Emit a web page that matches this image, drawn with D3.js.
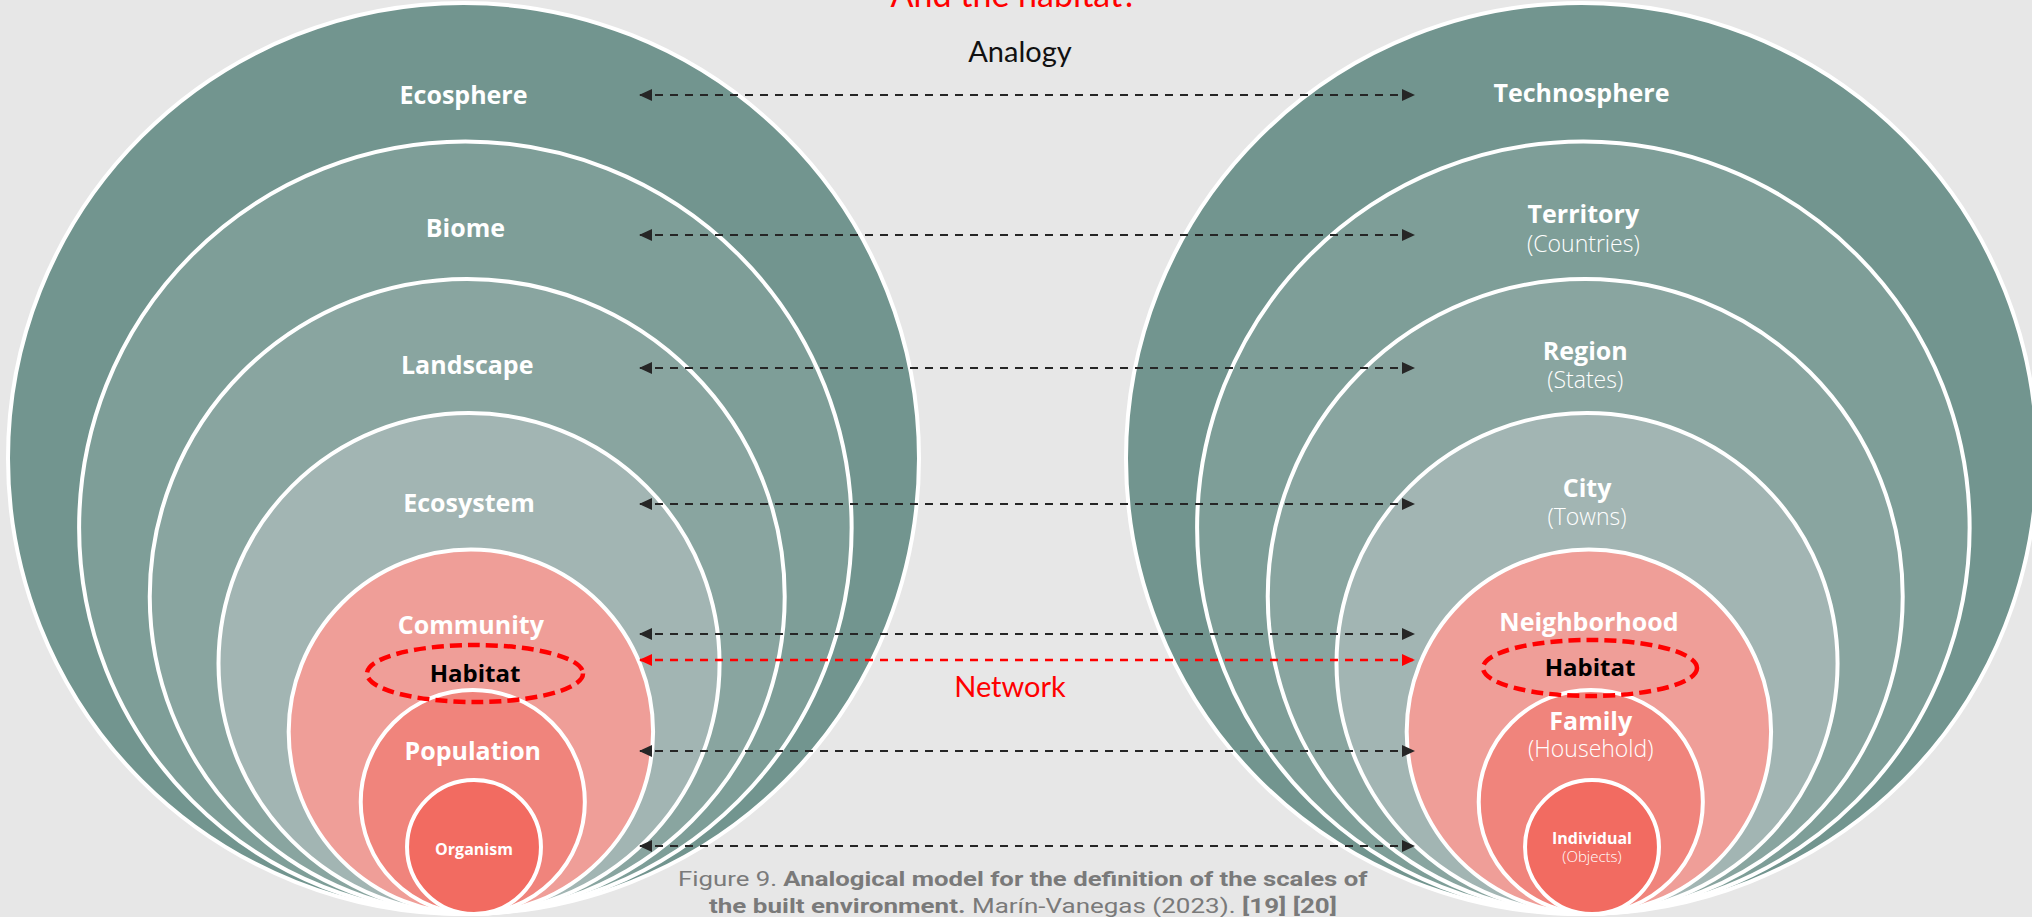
<!DOCTYPE html>
<html><head><meta charset="utf-8">
<script src="https://cdn.jsdelivr.net/npm/d3@7"></script>
<style>html,body{margin:0;padding:0;background:#e7e7e7;overflow:hidden}</style>
</head><body><svg id="c" width="2032" height="917"></svg>
<script>
// ---------- data ----------
const leftLabels = ["Ecosphere","Biome","Landscape","Ecosystem","Community","Population","Organism"];
const rightLabels = ["Technosphere","Territory","Region","City","Neighborhood","Family","Individual"];
const rightSubLabels = ["","(Countries)","(States)","(Towns)","","(Household)","(Objects)"];
const ringScale = [100, 84.8, 69.7, 55, 40, 24.6, 14.7];   // relative size of each nested level
const ringColors = ["#72958f","#7e9e98","#89a5a0","#a2b5b3","#ef9e98","#f0847c","#f26b61"];
const habitatLabel = "Habitat";
const titleText = "And the habitat?";
const analogyText = "Analogy";
const networkText = "Network";
const captionLine1 = [["Figure 9. ", false], ["Analogical model for the definition of the scales of", true]];
const captionLine2 = [["the built environment.", true], [" Marín-Vanegas (2023). ", false], ["[19] [20]", true]];

// ---------- layout ----------
const W = 2032, H = 917;
const svg = d3.select("#c");
svg.append("rect").attr("width", W).attr("height", H).attr("fill", "#e7e7e7");

const rScale = d3.scaleLinear().domain([0, 100]).range([0, 455.5]);
const bottomY = 914;
const cxLeft = d3.scaleLinear().domain([67, 455.5]).range([474, 463.5]);
const rightShift = 1118;

const leftBase = [104, 237, 374, 512, 634, 760, 855];
const rightBase = [102, 223, 360, 497, 631, 730, 844];
const rightSubBase = [0, 252, 388, 525, 0, 757, 862];
const arrowY = [95, 235, 368, 504, 634, 751, 846];
const habitatArrowY = 660;

function ring(i, side) {
  const r = rScale(ringScale[i]);
  const cx = cxLeft(r) + (side === "right" ? rightShift : 0);
  return {r, cx, cy: bottomY - r};
}

const sides = ["left", "right"];
sides.forEach(side => {
  const g = svg.append("g");
  g.selectAll("circle").data(ringScale).join("circle")
    .attr("cx", (d, i) => ring(i, side).cx)
    .attr("cy", (d, i) => ring(i, side).cy)
    .attr("r", (d, i) => ring(i, side).r)
    .attr("fill", (d, i) => ringColors[i])
    .attr("stroke", "#ffffff")
    .attr("stroke-width", 4);
});

// habitat dashed ellipses
const habEll = [{cx: 475, cy: 673.5, rx: 108, ry: 28.5}, {cx: 1590, cy: 668, rx: 107, ry: 28}];
svg.selectAll("ellipse.hab").data(habEll).join("ellipse")
  .attr("class", "hab")
  .attr("cx", d => d.cx).attr("cy", d => d.cy).attr("rx", d => d.rx).attr("ry", d => d.ry)
  .attr("fill", "none").attr("stroke", "#ff0000").attr("stroke-width", 4.5)
  .attr("stroke-dasharray", "12,6");

// labels
const mainFont = "'Open Sans', 'Noto Sans', sans-serif";
leftLabels.forEach((t, i) => {
  const rg = ring(i, "left");
  svg.append("text").attr("x", rg.cx).attr("y", leftBase[i])
    .attr("text-anchor", "middle").attr("fill", "#fff")
    .attr("font-family", mainFont).attr("font-weight", 700)
    .attr("font-size", i === 6 ? 16 : 25).text(t);
});
rightLabels.forEach((t, i) => {
  const rg = ring(i, "right");
  svg.append("text").attr("x", rg.cx).attr("y", rightBase[i])
    .attr("text-anchor", "middle").attr("fill", "#fff")
    .attr("font-family", mainFont).attr("font-weight", 700)
    .attr("font-size", i === 6 ? 16 : 25).text(t);
  if (rightSubLabels[i]) {
    svg.append("text").attr("x", rg.cx).attr("y", rightSubBase[i])
      .attr("text-anchor", "middle").attr("fill", "#fff")
      .attr("font-family", mainFont).attr("font-weight", 300)
      .attr("font-size", i === 6 ? 15 : 23).text(rightSubLabels[i]);
  }
});
[{x: 475, y: 682}, {x: 1590, y: 676}].forEach(p => {
  svg.append("text").attr("x", p.x).attr("y", p.y)
    .attr("text-anchor", "middle").attr("fill", "#000")
    .attr("font-family", mainFont).attr("font-weight", 700)
    .attr("font-size", 24).text(habitatLabel);
});

// arrows
const defs = svg.append("defs");
function marker(id, color) {
  defs.append("marker").attr("id", id)
    .attr("markerUnits", "userSpaceOnUse")
    .attr("viewBox", "0 0 13 12").attr("markerWidth", 13).attr("markerHeight", 12)
    .attr("refX", 12).attr("refY", 6).attr("orient", "auto-start-reverse")
    .append("path").attr("d", "M0,0L13,6L0,12Z").attr("fill", color);
}
marker("ab", "#262626");
marker("ar", "#ff0000");
const xArrow = d3.scaleLinear().domain([0, 1]).range([640, 1414]);
svg.selectAll("line.arr").data(arrowY).join("line")
  .attr("class", "arr")
  .attr("x1", xArrow(0)).attr("x2", xArrow(1))
  .attr("y1", d => d).attr("y2", d => d)
  .attr("stroke", "#262626").attr("stroke-width", 2.2)
  .attr("stroke-dasharray", "8,7")
  .attr("marker-start", "url(#ab)").attr("marker-end", "url(#ab)");
svg.append("line")
  .attr("x1", xArrow(0)).attr("x2", xArrow(1))
  .attr("y1", habitatArrowY).attr("y2", habitatArrowY)
  .attr("stroke", "#ff0000").attr("stroke-width", 2.4)
  .attr("stroke-dasharray", "8,7")
  .attr("marker-start", "url(#ar)").attr("marker-end", "url(#ar)");

// titles
const lightFont = "Lato, 'Open Sans', sans-serif";
svg.append("text").attr("x", 1014).attr("y", 7).attr("text-anchor", "middle")
  .attr("fill", "#ff0000").attr("font-family", lightFont).attr("font-size", 34).text(titleText);
svg.append("text").attr("x", 1020).attr("y", 62).attr("text-anchor", "middle")
  .attr("fill", "#111").attr("font-family", lightFont).attr("font-size", 29).text(analogyText);
svg.append("text").attr("x", 1010).attr("y", 697).attr("text-anchor", "middle")
  .attr("fill", "#ff0000").attr("font-family", lightFont).attr("font-size", 29).text(networkText);

// caption
function captionLine(parts, y, x0, width) {
  const g = svg.append("g");
  const t = g.append("text").attr("x", 0).attr("y", 0)
    .attr("fill", "#7a7a7a").attr("font-family", "Roboto, 'Liberation Sans', sans-serif")
    .attr("font-size", 20);
  parts.forEach(([s, b]) => t.append("tspan").attr("font-weight", b ? 700 : 400).text(s));
  const len = t.node().getComputedTextLength();
  g.attr("transform", `translate(${x0},${y}) scale(${width / len},1)`);
}
captionLine(captionLine1, 886, 678, 690);
captionLine(captionLine2, 913, 709, 628);
</script></body></html>
